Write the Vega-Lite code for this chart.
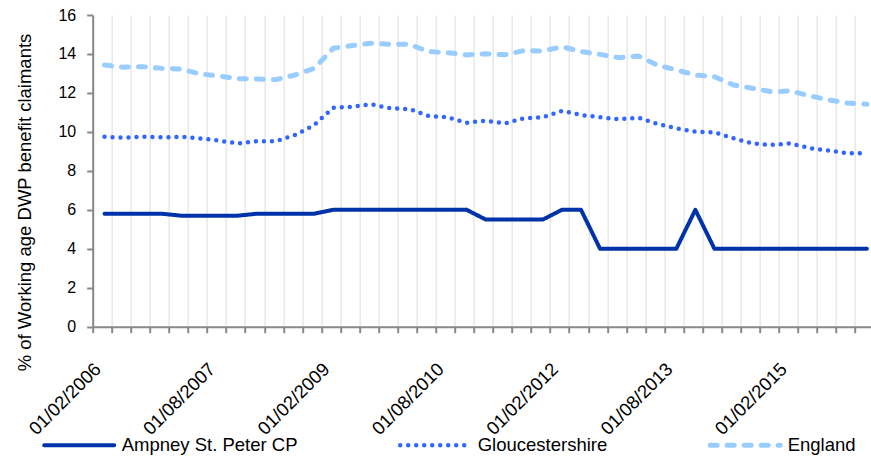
{
  "$schema": "https://vega.github.io/schema/vega-lite/v6.json",
  "autosize": {"type": "none"},
  "padding": {"left": 92.7, "top": 15, "right": 0, "bottom": 129.3},
  "width": 778.3,
  "height": 311.7,
  "background": "white",
  "config": {"view": {"stroke": null}, "font": "Liberation Sans"},
  "datasets": {
    "d": [
      {"date":"01/02/2006","series":"Ampney St. Peter CP","value":5.8},
      {"date":"01/05/2006","series":"Ampney St. Peter CP","value":5.8},
      {"date":"01/08/2006","series":"Ampney St. Peter CP","value":5.8},
      {"date":"01/11/2006","series":"Ampney St. Peter CP","value":5.8},
      {"date":"01/02/2007","series":"Ampney St. Peter CP","value":5.7},
      {"date":"01/05/2007","series":"Ampney St. Peter CP","value":5.7},
      {"date":"01/08/2007","series":"Ampney St. Peter CP","value":5.7},
      {"date":"01/11/2007","series":"Ampney St. Peter CP","value":5.7},
      {"date":"01/02/2008","series":"Ampney St. Peter CP","value":5.8},
      {"date":"01/05/2008","series":"Ampney St. Peter CP","value":5.8},
      {"date":"01/08/2008","series":"Ampney St. Peter CP","value":5.8},
      {"date":"01/11/2008","series":"Ampney St. Peter CP","value":5.8},
      {"date":"01/02/2009","series":"Ampney St. Peter CP","value":6.0},
      {"date":"01/05/2009","series":"Ampney St. Peter CP","value":6.0},
      {"date":"01/08/2009","series":"Ampney St. Peter CP","value":6.0},
      {"date":"01/11/2009","series":"Ampney St. Peter CP","value":6.0},
      {"date":"01/02/2010","series":"Ampney St. Peter CP","value":6.0},
      {"date":"01/05/2010","series":"Ampney St. Peter CP","value":6.0},
      {"date":"01/08/2010","series":"Ampney St. Peter CP","value":6.0},
      {"date":"01/11/2010","series":"Ampney St. Peter CP","value":6.0},
      {"date":"01/02/2011","series":"Ampney St. Peter CP","value":5.5},
      {"date":"01/05/2011","series":"Ampney St. Peter CP","value":5.5},
      {"date":"01/08/2011","series":"Ampney St. Peter CP","value":5.5},
      {"date":"01/11/2011","series":"Ampney St. Peter CP","value":5.5},
      {"date":"01/02/2012","series":"Ampney St. Peter CP","value":6.0},
      {"date":"01/05/2012","series":"Ampney St. Peter CP","value":6.0},
      {"date":"01/08/2012","series":"Ampney St. Peter CP","value":4.0},
      {"date":"01/11/2012","series":"Ampney St. Peter CP","value":4.0},
      {"date":"01/02/2013","series":"Ampney St. Peter CP","value":4.0},
      {"date":"01/05/2013","series":"Ampney St. Peter CP","value":4.0},
      {"date":"01/08/2013","series":"Ampney St. Peter CP","value":4.0},
      {"date":"01/11/2013","series":"Ampney St. Peter CP","value":6.0},
      {"date":"01/02/2014","series":"Ampney St. Peter CP","value":4.0},
      {"date":"01/05/2014","series":"Ampney St. Peter CP","value":4.0},
      {"date":"01/08/2014","series":"Ampney St. Peter CP","value":4.0},
      {"date":"01/11/2014","series":"Ampney St. Peter CP","value":4.0},
      {"date":"01/02/2015","series":"Ampney St. Peter CP","value":4.0},
      {"date":"01/05/2015","series":"Ampney St. Peter CP","value":4.0},
      {"date":"01/08/2015","series":"Ampney St. Peter CP","value":4.0},
      {"date":"01/11/2015","series":"Ampney St. Peter CP","value":4.0},
      {"date":"01/02/2016","series":"Ampney St. Peter CP","value":4.0},

      {"date":"01/02/2006","series":"Gloucestershire","value":9.75},
      {"date":"01/05/2006","series":"Gloucestershire","value":9.70},
      {"date":"01/08/2006","series":"Gloucestershire","value":9.75},
      {"date":"01/11/2006","series":"Gloucestershire","value":9.72},
      {"date":"01/02/2007","series":"Gloucestershire","value":9.75},
      {"date":"01/05/2007","series":"Gloucestershire","value":9.67},
      {"date":"01/08/2007","series":"Gloucestershire","value":9.55},
      {"date":"01/11/2007","series":"Gloucestershire","value":9.41},
      {"date":"01/02/2008","series":"Gloucestershire","value":9.52},
      {"date":"01/05/2008","series":"Gloucestershire","value":9.52},
      {"date":"01/08/2008","series":"Gloucestershire","value":9.84},
      {"date":"01/11/2008","series":"Gloucestershire","value":10.35},
      {"date":"01/02/2009","series":"Gloucestershire","value":11.24},
      {"date":"01/05/2009","series":"Gloucestershire","value":11.29},
      {"date":"01/08/2009","series":"Gloucestershire","value":11.42},
      {"date":"01/11/2009","series":"Gloucestershire","value":11.21},
      {"date":"01/02/2010","series":"Gloucestershire","value":11.17},
      {"date":"01/05/2010","series":"Gloucestershire","value":10.82},
      {"date":"01/08/2010","series":"Gloucestershire","value":10.75},
      {"date":"01/11/2010","series":"Gloucestershire","value":10.47},
      {"date":"01/02/2011","series":"Gloucestershire","value":10.58},
      {"date":"01/05/2011","series":"Gloucestershire","value":10.43},
      {"date":"01/08/2011","series":"Gloucestershire","value":10.70},
      {"date":"01/11/2011","series":"Gloucestershire","value":10.75},
      {"date":"01/02/2012","series":"Gloucestershire","value":11.08},
      {"date":"01/05/2012","series":"Gloucestershire","value":10.87},
      {"date":"01/08/2012","series":"Gloucestershire","value":10.75},
      {"date":"01/11/2012","series":"Gloucestershire","value":10.65},
      {"date":"01/02/2013","series":"Gloucestershire","value":10.73},
      {"date":"01/05/2013","series":"Gloucestershire","value":10.41},
      {"date":"01/08/2013","series":"Gloucestershire","value":10.18},
      {"date":"01/11/2013","series":"Gloucestershire","value":10.01},
      {"date":"01/02/2014","series":"Gloucestershire","value":9.98},
      {"date":"01/05/2014","series":"Gloucestershire","value":9.67},
      {"date":"01/08/2014","series":"Gloucestershire","value":9.41},
      {"date":"01/11/2014","series":"Gloucestershire","value":9.33},
      {"date":"01/02/2015","series":"Gloucestershire","value":9.41},
      {"date":"01/05/2015","series":"Gloucestershire","value":9.16},
      {"date":"01/08/2015","series":"Gloucestershire","value":9.04},
      {"date":"01/11/2015","series":"Gloucestershire","value":8.90},
      {"date":"01/02/2016","series":"Gloucestershire","value":8.90},

      {"date":"01/02/2006","series":"England","value":13.43},
      {"date":"01/05/2006","series":"England","value":13.32},
      {"date":"01/08/2006","series":"England","value":13.35},
      {"date":"01/11/2006","series":"England","value":13.26},
      {"date":"01/02/2007","series":"England","value":13.23},
      {"date":"01/05/2007","series":"England","value":12.97},
      {"date":"01/08/2007","series":"England","value":12.87},
      {"date":"01/11/2007","series":"England","value":12.73},
      {"date":"01/02/2008","series":"England","value":12.72},
      {"date":"01/05/2008","series":"England","value":12.68},
      {"date":"01/08/2008","series":"England","value":12.92},
      {"date":"01/11/2008","series":"England","value":13.26},
      {"date":"01/02/2009","series":"England","value":14.29},
      {"date":"01/05/2009","series":"England","value":14.43},
      {"date":"01/08/2009","series":"England","value":14.55},
      {"date":"01/11/2009","series":"England","value":14.50},
      {"date":"01/02/2010","series":"England","value":14.50},
      {"date":"01/05/2010","series":"England","value":14.12},
      {"date":"01/08/2010","series":"England","value":14.07},
      {"date":"01/11/2010","series":"England","value":13.95},
      {"date":"01/02/2011","series":"England","value":14.01},
      {"date":"01/05/2011","series":"England","value":13.96},
      {"date":"01/08/2011","series":"England","value":14.17},
      {"date":"01/11/2011","series":"England","value":14.15},
      {"date":"01/02/2012","series":"England","value":14.37},
      {"date":"01/05/2012","series":"England","value":14.12},
      {"date":"01/08/2012","series":"England","value":13.98},
      {"date":"01/11/2012","series":"England","value":13.81},
      {"date":"01/02/2013","series":"England","value":13.90},
      {"date":"01/05/2013","series":"England","value":13.43},
      {"date":"01/08/2013","series":"England","value":13.18},
      {"date":"01/11/2013","series":"England","value":12.92},
      {"date":"01/02/2014","series":"England","value":12.83},
      {"date":"01/05/2014","series":"England","value":12.41},
      {"date":"01/08/2014","series":"England","value":12.24},
      {"date":"01/11/2014","series":"England","value":12.06},
      {"date":"01/02/2015","series":"England","value":12.10},
      {"date":"01/05/2015","series":"England","value":11.85},
      {"date":"01/08/2015","series":"England","value":11.64},
      {"date":"01/11/2015","series":"England","value":11.48},
      {"date":"01/02/2016","series":"England","value":11.42}
    ]
  },
  "data": {"name": "d"},
  "mark": {"type": "line", "strokeCap": "round", "strokeJoin": "round"},
  "encoding": {
    "x": {
      "field": "date",
      "type": "ordinal",
      "sort": null,
      "scale": {"type": "point", "range": [0, 786], "padding": 0.62},
      "axis": {
        "title": null,
        "grid": true,
        "gridColor": "#e8e8e8",
        "gridWidth": 1.5,
        "domainColor": "#888888",
        "domainWidth": 2,
        "tickColor": "#888888",
        "tickWidth": 2,
        "tickSize": 6,
        "tickOffset": -11.8,
        "labelOffset": 4.5,
        "labelAngle": -45,
        "labelAlign": "right",
        "labelBaseline": "middle",
        "labelPadding": 33,
        "labelFont": "Liberation Sans",
        "labelFontSize": 18.5,
        "labelColor": "#000000",
        "labelBound": false,
        "labelOverlap": false,
        "labelFlush": false,
        "labelExpr": "indexof(['01/02/2006','01/08/2007','01/02/2009','01/08/2010','01/02/2012','01/08/2013','01/02/2015'], datum.value) >= 0 ? datum.label : ''"
      }
    },
    "y": {
      "field": "value",
      "type": "quantitative",
      "scale": {"domain": [0, 16], "nice": false, "zero": true},
      "axis": {
        "values": [0, 2, 4, 6, 8, 10, 12, 14, 16],
        "grid": false,
        "title": "% of  Working age DWP benefit claimants",
        "titleFont": "Liberation Sans",
        "titleFontSize": 18.5,
        "titleFontWeight": "normal",
        "titleColor": "#000000",
        "titleX": -68.5,
        "titleY": 187,
        "titleAngle": -90,
        "titleAlign": "center",
        "titleBaseline": "middle",
        "domainColor": "#888888",
        "domainWidth": 2,
        "tickColor": "#888888",
        "tickWidth": 2,
        "tickSize": 6,
        "labelPadding": 11,
        "labelFont": "Liberation Sans",
        "labelFontSize": 16,
        "labelColor": "#000000"
      }
    },
    "color": {
      "field": "series",
      "type": "nominal",
      "scale": {
        "domain": ["Ampney St. Peter CP", "Gloucestershire", "England"],
        "range": ["#0033AA", "#3366FF", "#99CCFF"]
      },
      "legend": {
        "title": null,
        "orient": "none",
        "direction": "horizontal",
        "columns": 3,
        "legendX": -51,
        "legendY": 420.3,
        "clipHeight": 20,
        "padding": 0,
        "columnPadding": 100,
        "symbolType": "stroke",
        "symbolSize": 4900,
        "labelOffset": 5,
        "labelLimit": 0,
        "labelFont": "Liberation Sans",
        "labelFontSize": 18.5,
        "labelColor": "#000000",
        "encode": {
          "symbols": {
            "update": {
              "strokeCap": {"value": "round"},
              "strokeWidth": {
                "condition": [
                  {"test": "datum.value === 'England'", "value": 4},
                  {"test": "datum.value === 'Gloucestershire'", "value": 3}
                ],
                "value": 2
              },
              "strokeDash": {
                "condition": [
                  {"test": "datum.value === 'England'", "value": [2.5, 5.5]},
                  {"test": "datum.value === 'Gloucestershire'", "value": [0, 3.2]}
                ],
                "value": [1, 0]
              }
            }
          }
        }
      }
    },
    "strokeDash": {
      "field": "series",
      "type": "nominal",
      "scale": {
        "domain": ["Ampney St. Peter CP", "Gloucestershire", "England"],
        "range": [[1, 0], [0, 8], [7, 10]]
      },
      "legend": null
    },
    "strokeWidth": {
      "field": "series",
      "type": "nominal",
      "scale": {
        "domain": ["Ampney St. Peter CP", "Gloucestershire", "England"],
        "range": [4, 5, 6]
      },
      "legend": null
    }
  }
}
